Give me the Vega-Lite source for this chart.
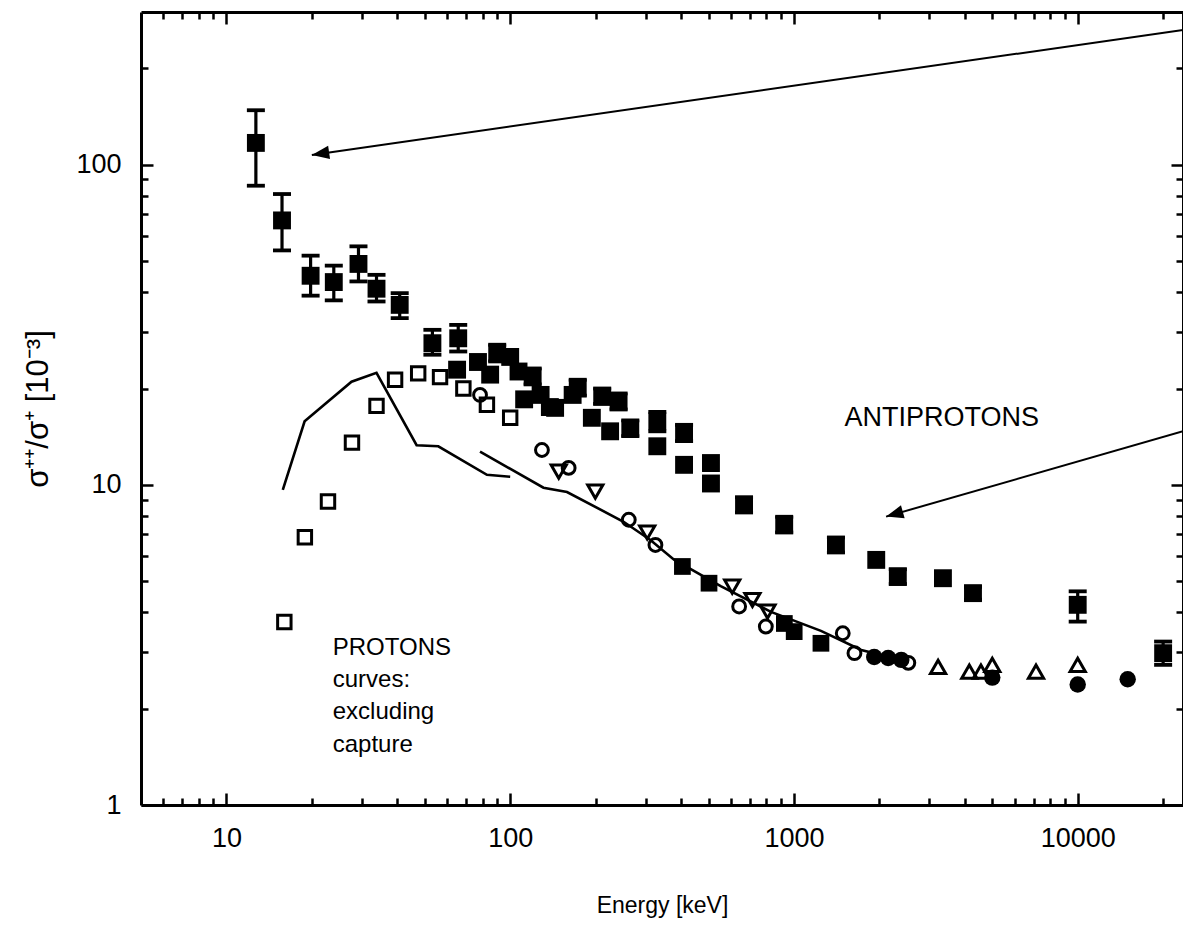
{
  "$schema": "https://vega.github.io/schema/vega-lite/v6.json",
  "width": 1042,
  "height": 793,
  "autosize": {"type": "none"},
  "padding": {"left": 141, "top": 12, "right": 0, "bottom": 121},
  "background": "white",
  "config": {
    "view": {"stroke": null},
    "font": "Liberation Sans",
    "axis": {
      "domainColor": "black",
      "domainWidth": 3,
      "tickColor": "black",
      "tickWidth": 2.5,
      "labelColor": "black",
      "labelFont": "Liberation Sans",
      "labelFontSize": 27,
      "titleColor": "black",
      "titleFont": "Liberation Sans",
      "titleFontSize": 23,
      "titleFontWeight": "normal",
      "grid": false,
      "labelFlush": false,
      "labelOverlap": false
    }
  },
  "datasets": {
    "antiprotons": [
      {"E": 12.7, "R": 117, "lo": 86, "hi": 148},
      {"E": 15.7, "R": 67, "lo": 54, "hi": 81},
      {"E": 19.8, "R": 45, "lo": 39, "hi": 52},
      {"E": 23.9, "R": 43, "lo": 37.7, "hi": 48.4},
      {"E": 29.2, "R": 49, "lo": 43.2, "hi": 55.6},
      {"E": 33.8, "R": 41, "lo": 37.4, "hi": 45.3},
      {"E": 40.8, "R": 36.5, "lo": 33.2, "hi": 39.7},
      {"E": 53.2, "R": 27.7, "lo": 25.5, "hi": 30.5},
      {"E": 65.6, "R": 28.7, "lo": 26.1, "hi": 31.6},
      {"E": 65, "R": 22.9},
      {"E": 77, "R": 24.2},
      {"E": 85, "R": 22.1},
      {"E": 90, "R": 25.8, "lo": 24.3, "hi": 27.4},
      {"E": 100, "R": 25.1},
      {"E": 107, "R": 22.6},
      {"E": 112, "R": 18.5},
      {"E": 120, "R": 21.8, "lo": 20.6, "hi": 23.1},
      {"E": 128, "R": 19.1},
      {"E": 138, "R": 17.5},
      {"E": 144, "R": 17.4},
      {"E": 166, "R": 19.1},
      {"E": 173, "R": 20.1, "lo": 19, "hi": 21.3},
      {"E": 194, "R": 16.2},
      {"E": 211, "R": 18.9, "lo": 17.9, "hi": 20},
      {"E": 225, "R": 14.7},
      {"E": 241, "R": 18.2, "lo": 17.2, "hi": 19.3},
      {"E": 265, "R": 15, "lo": 14.2, "hi": 15.9},
      {"E": 330, "R": 15.8, "lo": 14.7, "hi": 16.9},
      {"E": 330, "R": 13.2},
      {"E": 410, "R": 14.5, "lo": 13.7, "hi": 15.4},
      {"E": 410, "R": 11.55},
      {"E": 510, "R": 11.7},
      {"E": 510, "R": 10.1},
      {"E": 667, "R": 8.66, "lo": 8.2, "hi": 9.15},
      {"E": 924, "R": 7.5, "lo": 7.1, "hi": 7.95},
      {"E": 1406, "R": 6.49, "lo": 6.15, "hi": 6.85},
      {"E": 1950, "R": 5.83},
      {"E": 2323, "R": 5.17, "lo": 4.9, "hi": 5.45},
      {"E": 3350, "R": 5.11},
      {"E": 4275, "R": 4.59, "lo": 4.38, "hi": 4.8},
      {"E": 10000, "R": 4.22, "lo": 3.74, "hi": 4.65},
      {"E": 20000, "R": 2.98, "lo": 2.74, "hi": 3.24}
    ],
    "protons": [
      {"set": "open square", "E": 16, "R": 3.73},
      {"set": "open square", "E": 18.9, "R": 6.86},
      {"set": "open square", "E": 22.8, "R": 8.87},
      {"set": "open square", "E": 27.7, "R": 13.55},
      {"set": "open square", "E": 33.8, "R": 17.65},
      {"set": "open square", "E": 39.3, "R": 21.3},
      {"set": "open square", "E": 47.4, "R": 22.3},
      {"set": "open square", "E": 56.6, "R": 21.7},
      {"set": "open square", "E": 68.4, "R": 20.0},
      {"set": "open square", "E": 82.8, "R": 17.8},
      {"set": "open square", "E": 100, "R": 16.2},
      {"set": "open circle", "E": 78.3, "R": 19.1},
      {"set": "open circle", "E": 129.4, "R": 12.85},
      {"set": "open circle", "E": 160.7, "R": 11.3},
      {"set": "open circle", "E": 261.8, "R": 7.78},
      {"set": "open circle", "E": 325, "R": 6.49},
      {"set": "open circle", "E": 641, "R": 4.17},
      {"set": "open circle", "E": 796, "R": 3.61},
      {"set": "open circle", "E": 1486, "R": 3.44},
      {"set": "open circle", "E": 1634, "R": 2.98},
      {"set": "open circle", "E": 2530, "R": 2.78},
      {"set": "open triangle down", "E": 148.3, "R": 11.0},
      {"set": "open triangle down", "E": 199.5, "R": 9.53},
      {"set": "open triangle down", "E": 304, "R": 7.1},
      {"set": "open triangle down", "E": 606, "R": 4.81},
      {"set": "open triangle down", "E": 714, "R": 4.37},
      {"set": "open triangle down", "E": 807, "R": 4.02},
      {"set": "filled square", "E": 404.5, "R": 5.56},
      {"set": "filled square", "E": 502, "R": 4.93},
      {"set": "filled square", "E": 925, "R": 3.69},
      {"set": "filled square", "E": 1002, "R": 3.48},
      {"set": "filled square", "E": 1245, "R": 3.2},
      {"set": "filled circle", "E": 1918, "R": 2.9},
      {"set": "filled circle", "E": 2148, "R": 2.88},
      {"set": "filled circle", "E": 2389, "R": 2.84},
      {"set": "filled circle", "E": 5000, "R": 2.5},
      {"set": "filled circle", "E": 10000, "R": 2.38},
      {"set": "filled circle", "E": 15000, "R": 2.47},
      {"set": "open triangle up", "E": 3221, "R": 2.7},
      {"set": "open triangle up", "E": 4150, "R": 2.61},
      {"set": "open triangle up", "E": 4560, "R": 2.61},
      {"set": "open triangle up", "E": 5000, "R": 2.74},
      {"set": "open triangle up", "E": 7130, "R": 2.61},
      {"set": "open triangle up", "E": 10000, "R": 2.74}
    ],
    "curves": [
      {"curve": "low", "E": 15.8, "R": 9.65},
      {"curve": "low", "E": 18.86, "R": 15.8},
      {"curve": "low", "E": 27.6, "R": 21.0},
      {"curve": "low", "E": 33.8, "R": 22.4},
      {"curve": "low", "E": 46.8, "R": 13.3},
      {"curve": "low", "E": 55.8, "R": 13.2},
      {"curve": "low", "E": 82.8, "R": 10.75},
      {"curve": "low", "E": 100, "R": 10.6},
      {"curve": "high", "E": 78.3, "R": 12.7},
      {"curve": "high", "E": 131, "R": 9.8},
      {"curve": "high", "E": 158.6, "R": 9.5},
      {"curve": "high", "E": 251, "R": 7.67},
      {"curve": "high", "E": 312, "R": 6.73},
      {"curve": "high", "E": 378, "R": 5.84},
      {"curve": "high", "E": 552, "R": 4.83},
      {"curve": "high", "E": 830, "R": 4.01},
      {"curve": "high", "E": 1245, "R": 3.5},
      {"curve": "high", "E": 1726, "R": 3.05},
      {"curve": "high", "E": 2389, "R": 2.84}
    ],
    "notes": [
      {"label": "big", "E": 1507, "R": 16.2, "text": "ANTIPROTONS"},
      {"label": "small", "E": 23.7, "R": 3.09, "text": "PROTONS"},
      {"label": "small", "E": 23.7, "R": 2.457, "text": "curves:"},
      {"label": "small", "E": 23.7, "R": 1.953, "text": "excluding"},
      {"label": "small", "E": 23.7, "R": 1.54, "text": "capture"}
    ],
    "arrows": [
      {"id": "a1", "E0": 23500, "R0": 263.7, "E1": 20, "R1": 107.3},
      {"id": "a2", "E0": 23500, "R0": 14.7, "E1": 2112, "R1": 7.96}
    ]
  },
  "resolve": {"axis": {"x": "independent", "y": "independent"}},
  "layer": [
    {
      "data": {"name": "curves"},
      "mark": {"type": "line", "color": "black", "strokeWidth": 2.6},
      "encoding": {
        "x": {
          "field": "E", "type": "quantitative",
          "scale": {"type": "log", "domain": [5, 23500], "nice": false},
          "axis": {
            "orient": "top", "title": null, "labels": false, "domain": true,
            "values": [6, 7, 8, 9, 10, 20, 30, 40, 50, 60, 70, 80, 90, 100, 200, 300, 400, 500, 600, 700, 800, 900, 1000, 2000, 3000, 4000, 5000, 6000, 7000, 8000, 9000, 10000, 20000],
            "tickSize": {"condition": {"test": "indexof([10, 100, 1000, 10000], datum.value) >= 0", "value": -12}, "value": -7}
          }
        },
        "y": {
          "field": "R", "type": "quantitative",
          "scale": {"type": "log", "domain": [1, 300], "nice": false},
          "axis": {
            "orient": "right", "title": null, "labels": false, "domain": true,
            "values": [2, 3, 4, 5, 6, 7, 8, 9, 10, 20, 30, 40, 50, 60, 70, 80, 90, 100, 200],
            "tickSize": {"condition": {"test": "indexof([1, 10, 100], datum.value) >= 0", "value": -12}, "value": -7}
          }
        },
        "detail": {"field": "curve"}
      }
    },
    {
      "data": {"name": "arrows"},
      "mark": {"type": "rule", "color": "black", "strokeWidth": 2},
      "encoding": {
        "x": {"field": "E1", "type": "quantitative", "scale": {"type": "log", "domain": [5, 23500], "nice": false}, "axis": null},
        "x2": {"field": "E0"},
        "y": {"field": "R1", "type": "quantitative", "scale": {"type": "log", "domain": [1, 300], "nice": false}, "axis": null},
        "y2": {"field": "R0"}
      }
    },
    {
      "data": {"name": "arrows"},
      "transform": [{"filter": "datum.id === 'a1'"}],
      "mark": {"type": "point", "shape": "M0,0L0.65,1.7L-0.65,1.7Z", "filled": true, "color": "black", "size": 420, "angle": 261.8, "opacity": 1},
      "encoding": {
        "x": {"field": "E1", "type": "quantitative", "scale": {"type": "log", "domain": [5, 23500], "nice": false}, "axis": null},
        "y": {"field": "R1", "type": "quantitative", "scale": {"type": "log", "domain": [1, 300], "nice": false}, "axis": null}
      }
    },
    {
      "data": {"name": "arrows"},
      "transform": [{"filter": "datum.id === 'a2'"}],
      "mark": {"type": "point", "shape": "M0,0L0.65,1.7L-0.65,1.7Z", "filled": true, "color": "black", "size": 420, "angle": 253.9, "opacity": 1},
      "encoding": {
        "x": {"field": "E1", "type": "quantitative", "scale": {"type": "log", "domain": [5, 23500], "nice": false}, "axis": null},
        "y": {"field": "R1", "type": "quantitative", "scale": {"type": "log", "domain": [1, 300], "nice": false}, "axis": null}
      }
    },
    {
      "data": {"name": "antiprotons"},
      "transform": [{"filter": "isValid(datum.lo)"}],
      "mark": {"type": "rule", "color": "black", "strokeWidth": 3.2},
      "encoding": {
        "x": {"field": "E", "type": "quantitative", "scale": {"type": "log", "domain": [5, 23500], "nice": false}, "axis": null},
        "y": {"field": "lo", "type": "quantitative", "scale": {"type": "log", "domain": [1, 300], "nice": false}, "axis": null},
        "y2": {"field": "hi"}
      }
    },
    {
      "data": {"name": "antiprotons"},
      "transform": [{"filter": "isValid(datum.lo)"}],
      "mark": {"type": "tick", "orient": "horizontal", "color": "black", "size": 18, "thickness": 3.8, "opacity": 1},
      "encoding": {
        "x": {"field": "E", "type": "quantitative", "scale": {"type": "log", "domain": [5, 23500], "nice": false}, "axis": null},
        "y": {"field": "lo", "type": "quantitative", "scale": {"type": "log", "domain": [1, 300], "nice": false}, "axis": null}
      }
    },
    {
      "data": {"name": "antiprotons"},
      "transform": [{"filter": "isValid(datum.hi)"}],
      "mark": {"type": "tick", "orient": "horizontal", "color": "black", "size": 18, "thickness": 3.8, "opacity": 1},
      "encoding": {
        "x": {"field": "E", "type": "quantitative", "scale": {"type": "log", "domain": [5, 23500], "nice": false}, "axis": null},
        "y": {"field": "hi", "type": "quantitative", "scale": {"type": "log", "domain": [1, 300], "nice": false}, "axis": null}
      }
    },
    {
      "data": {"name": "antiprotons"},
      "mark": {"type": "point", "shape": "square", "filled": true, "color": "black", "size": 320, "opacity": 1},
      "encoding": {
        "x": {
          "field": "E", "type": "quantitative",
          "scale": {"type": "log", "domain": [5, 23500], "nice": false},
          "axis": {
            "orient": "bottom", "title": "Energy [keV]", "titlePadding": 38,
            "values": [6, 7, 8, 9, 10, 20, 30, 40, 50, 60, 70, 80, 90, 100, 200, 300, 400, 500, 600, 700, 800, 900, 1000, 2000, 3000, 4000, 5000, 6000, 7000, 8000, 9000, 10000, 20000],
            "labelExpr": "indexof([10, 100, 1000, 10000], datum.value) >= 0 ? format(datum.value, 'd') : ''",
            "labelPadding": 32,
            "tickSize": {"condition": {"test": "indexof([10, 100, 1000, 10000], datum.value) >= 0", "value": -12}, "value": -7}
          }
        },
        "y": {
          "field": "R", "type": "quantitative",
          "scale": {"type": "log", "domain": [1, 300], "nice": false},
          "axis": {
            "orient": "left", "title": "σ⁺⁺/σ⁺ [10⁻³]", "titlePadding": 21, "titleFontSize": 31,
            "values": [1, 2, 3, 4, 5, 6, 7, 8, 9, 10, 20, 30, 40, 50, 60, 70, 80, 90, 100, 200],
            "labelExpr": "indexof([1, 10, 100], datum.value) >= 0 ? format(datum.value, 'd') : ''",
            "labelPadding": 32,
            "tickSize": {"condition": {"test": "indexof([1, 10, 100], datum.value) >= 0", "value": -12}, "value": -7}
          }
        }
      }
    },
    {
      "data": {"name": "protons"},
      "transform": [{"filter": "datum.set === 'open square'"}],
      "mark": {"type": "point", "shape": "square", "filled": false, "color": "black", "strokeWidth": 3, "size": 180, "opacity": 1},
      "encoding": {
        "x": {"field": "E", "type": "quantitative", "scale": {"type": "log", "domain": [5, 23500], "nice": false}, "axis": null},
        "y": {"field": "R", "type": "quantitative", "scale": {"type": "log", "domain": [1, 300], "nice": false}, "axis": null}
      }
    },
    {
      "data": {"name": "protons"},
      "transform": [{"filter": "datum.set === 'open circle'"}],
      "mark": {"type": "point", "shape": "circle", "filled": false, "color": "black", "strokeWidth": 3, "size": 165, "opacity": 1},
      "encoding": {
        "x": {"field": "E", "type": "quantitative", "scale": {"type": "log", "domain": [5, 23500], "nice": false}, "axis": null},
        "y": {"field": "R", "type": "quantitative", "scale": {"type": "log", "domain": [1, 300], "nice": false}, "axis": null}
      }
    },
    {
      "data": {"name": "protons"},
      "transform": [{"filter": "datum.set === 'open triangle down'"}],
      "mark": {"type": "point", "shape": "triangle-down", "filled": false, "color": "black", "strokeWidth": 3, "size": 230, "opacity": 1},
      "encoding": {
        "x": {"field": "E", "type": "quantitative", "scale": {"type": "log", "domain": [5, 23500], "nice": false}, "axis": null},
        "y": {"field": "R", "type": "quantitative", "scale": {"type": "log", "domain": [1, 300], "nice": false}, "axis": null}
      }
    },
    {
      "data": {"name": "protons"},
      "transform": [{"filter": "datum.set === 'open triangle up'"}],
      "mark": {"type": "point", "shape": "triangle-up", "filled": false, "color": "black", "strokeWidth": 3, "size": 230, "opacity": 1},
      "encoding": {
        "x": {"field": "E", "type": "quantitative", "scale": {"type": "log", "domain": [5, 23500], "nice": false}, "axis": null},
        "y": {"field": "R", "type": "quantitative", "scale": {"type": "log", "domain": [1, 300], "nice": false}, "axis": null}
      }
    },
    {
      "data": {"name": "protons"},
      "transform": [{"filter": "datum.set === 'filled square'"}],
      "mark": {"type": "point", "shape": "square", "filled": true, "color": "black", "size": 280, "opacity": 1},
      "encoding": {
        "x": {"field": "E", "type": "quantitative", "scale": {"type": "log", "domain": [5, 23500], "nice": false}, "axis": null},
        "y": {"field": "R", "type": "quantitative", "scale": {"type": "log", "domain": [1, 300], "nice": false}, "axis": null}
      }
    },
    {
      "data": {"name": "protons"},
      "transform": [{"filter": "datum.set === 'filled circle'"}],
      "mark": {"type": "point", "shape": "circle", "filled": true, "color": "black", "size": 270, "opacity": 1},
      "encoding": {
        "x": {"field": "E", "type": "quantitative", "scale": {"type": "log", "domain": [5, 23500], "nice": false}, "axis": null},
        "y": {"field": "R", "type": "quantitative", "scale": {"type": "log", "domain": [1, 300], "nice": false}, "axis": null}
      }
    },
    {
      "data": {"name": "notes"},
      "transform": [{"filter": "datum.label === 'small'"}],
      "mark": {"type": "text", "align": "left", "baseline": "middle", "font": "Liberation Sans", "fontSize": 24, "color": "black"},
      "encoding": {
        "x": {"field": "E", "type": "quantitative", "scale": {"type": "log", "domain": [5, 23500], "nice": false}, "axis": null},
        "y": {"field": "R", "type": "quantitative", "scale": {"type": "log", "domain": [1, 300], "nice": false}, "axis": null},
        "text": {"field": "text"}
      }
    },
    {
      "data": {"name": "notes"},
      "transform": [{"filter": "datum.label === 'big'"}],
      "mark": {"type": "text", "align": "left", "baseline": "middle", "font": "Liberation Sans", "fontSize": 27, "color": "black"},
      "encoding": {
        "x": {"field": "E", "type": "quantitative", "scale": {"type": "log", "domain": [5, 23500], "nice": false}, "axis": null},
        "y": {"field": "R", "type": "quantitative", "scale": {"type": "log", "domain": [1, 300], "nice": false}, "axis": null},
        "text": {"field": "text"}
      }
    }
  ]
}
